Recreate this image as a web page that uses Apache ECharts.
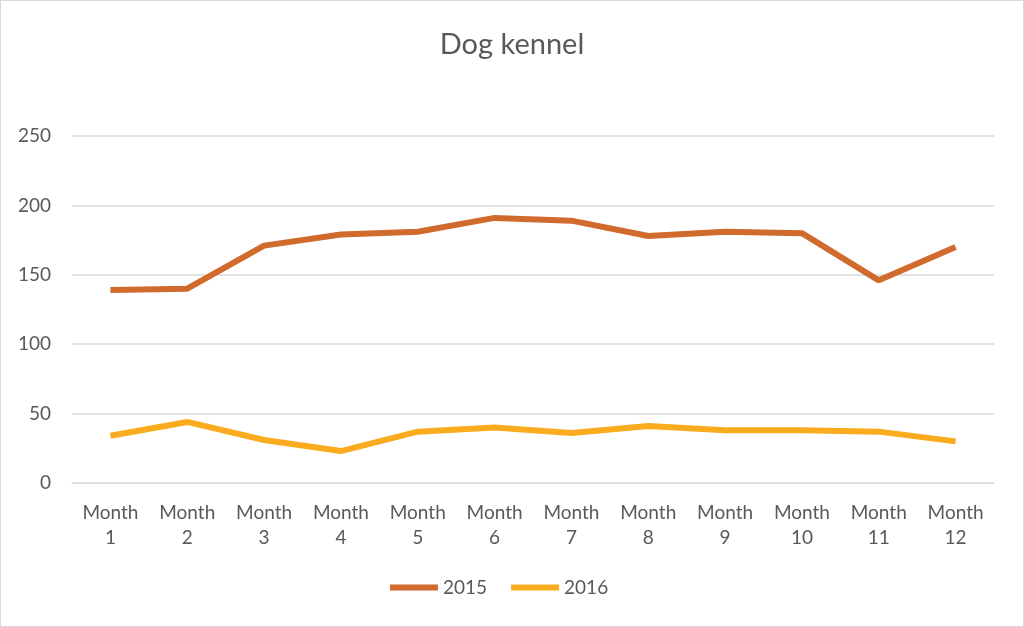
<!DOCTYPE html>
<html>
<head>
<meta charset="utf-8">
<script src="https://cdn.jsdelivr.net/npm/echarts@6/dist/echarts.min.js"></script>
<style>
  html, body { margin: 0; padding: 0; background: #fff; }
  #chart { width: 1024px; height: 627px; box-sizing: border-box; border: 1px solid #d9d9d9; }
</style>
</head>
<body>
<div id="chart"></div>
<script>
// chart data
var months = ['Month\n1', 'Month\n2', 'Month\n3', 'Month\n4', 'Month\n5', 'Month\n6',
              'Month\n7', 'Month\n8', 'Month\n9', 'Month\n10', 'Month\n11', 'Month\n12'];
var y2015 = [139, 140, 171, 179, 181, 191, 189, 178, 181, 180, 146, 170];
var y2016 = [34, 44, 31, 23, 37, 40, 36, 41, 38, 38, 37, 30];
var yTicks = [0, 50, 100, 150, 200, 250];

var txt = '#595959';
var fnt = 'Lato, "Open Sans", sans-serif';

var myChart = echarts.init(document.getElementById('chart'));
myChart.setOption({
  animation: false,
  title: {
    text: 'Dog kennel',
    left: 'center',
    top: 24,
    textStyle: { color: txt, fontSize: 29, fontWeight: 'normal', fontFamily: fnt }
  },
  legend: {
    bottom: 24,
    left: 384,
    itemWidth: 48,
    itemHeight: 6,
    itemGap: 24,
    icon: 'rect',
    textStyle: { color: txt, fontSize: 19, fontFamily: fnt },
    data: ['2015', '2016']
  },
  grid: { left: 71, right: 29, top: 135, bottom: 143 },
  xAxis: {
    type: 'category',
    data: months,
    boundaryGap: true,
    axisLine: { lineStyle: { color: '#d9d9d9' } },
    axisTick: { show: false },
    axisLabel: { color: txt, fontSize: 19, fontFamily: fnt, lineHeight: 25, margin: 17, interval: 0 }
  },
  yAxis: {
    type: 'value',
    min: yTicks[0],
    max: yTicks[yTicks.length - 1],
    interval: 50,
    axisLine: { show: false },
    axisTick: { show: false },
    splitLine: { lineStyle: { color: '#d9d9d9', width: 1.5 } },
    axisLabel: { color: txt, fontSize: 19, fontFamily: fnt, margin: 21 }
  },
  series: [
    {
      name: '2015',
      type: 'line',
      data: y2015,
      symbol: 'none',
      color: '#d06b2d',
      lineStyle: { width: 6, color: '#d06b2d' }
    },
    {
      name: '2016',
      type: 'line',
      data: y2016,
      symbol: 'none',
      color: '#fbab1e',
      lineStyle: { width: 6, color: '#fbab1e' }
    }
  ]
});
</script>
</body>
</html>
